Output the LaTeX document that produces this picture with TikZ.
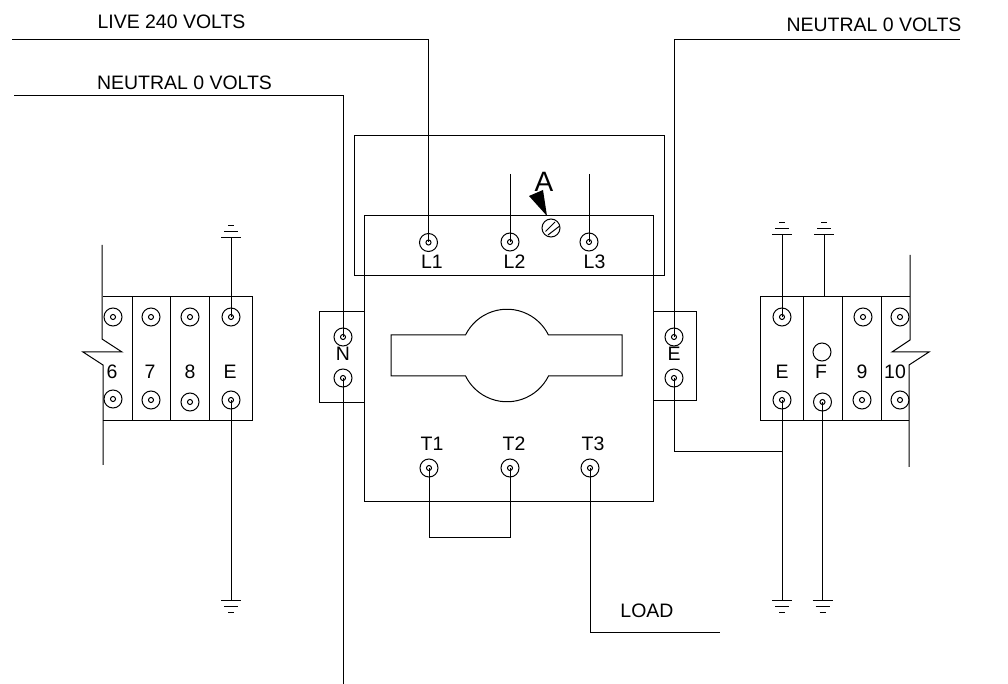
\documentclass[tikz,border=0pt]{standalone}
\usepackage{fontspec}
\setmainfont{Liberation Sans}
\tikzset{
  terminal/.style={draw,circle,inner sep=0pt,minimum size=13.5pt,
    path picture={\draw (path picture bounding box.center) circle (1.9pt);}},
  hole/.style={draw,circle,inner sep=0pt,minimum size=13.5pt},
  txt/.style={inner sep=0pt,font=\fontsize{14.6}{16}\selectfont},
  pics/gndup/.style={code={
    \draw (-10,0)--(10,0);
    \draw (-7,-6)--(7,-6);
    \draw (-3,-12)--(3,-12);}},
  pics/gnddown/.style={code={
    \draw (-10,0)--(10,0);
    \draw (-7,6)--(7,6);
    \draw (-3,12)--(3,12);}}
}
\begin{document}
\begin{tikzpicture}[x=0.75pt,y=-0.75pt,line width=0.75pt]
  \useasboundingbox (0,0) rectangle (1008,684);
  % starter body
  \draw (354,136) rectangle (664,276);
  \draw[fill=white] (364,216) rectangle (653,502);
  \draw (354,216)--(354,276)--(664,276)--(664,216);
  \draw (391,335)--(465.5,335) arc[start angle=153.7,end angle=26.3,radius=34.7pt]
    --(622,335)--(622,376)--(548.5,376) arc[start angle=-26.3,end angle=-153.7,radius=34.7pt]
    --(391,376)--cycle;
  % end clamps
  \draw (364,312)--(319,312)--(319,403)--(364,403);
  \draw (653,312)--(696,312)--(696,401)--(653,401);
  % rail left
  \draw (103,297)--(252,297)--(252,421)--(103,421);
  \draw (132,297)--(132,421);
  \draw (170.5,297)--(170.5,421);
  \draw (209.5,297)--(209.5,421);
  \draw (102,245)--(102,339)--(122,352)--(83,352)--(103,365)--(103,465);
  % rail right
  \draw (910,297)--(760,297)--(760,421)--(909,421);
  \draw (803.5,297)--(803.5,421);
  \draw (842.5,297)--(842.5,421);
  \draw (881,297)--(881,421);
  \draw (910,255)--(910,340)--(892,352)--(929,352)--(909,365)--(909,467);
  % terminals
  \node[terminal] (L1) at (428.5,242.5){};
  \node[terminal] (L2) at (510,242){};
  \node[terminal] (L3) at (589,242){};
  \node[terminal] (T1) at (429,468){};
  \node[terminal] (T2) at (510,468){};
  \node[terminal] (T3) at (590,468){};
  \node[terminal] (Na) at (343,337){};
  \node[terminal] (Nb) at (343,378){};
  \node[terminal] (Ea) at (674,337){};
  \node[terminal] (Eb) at (674,378){};
  \node[terminal] (SixA) at (113,317){};
  \node[terminal] (SixB) at (113,399){};
  \node[terminal] (SevenA) at (151,317){};
  \node[terminal] (SevenB) at (151,400){};
  \node[terminal] (EightA) at (190,317){};
  \node[terminal] (EightB) at (190,402){};
  \node[terminal] (EarthA) at (231,317){};
  \node[terminal] (EarthB) at (231,400){};
  \node[terminal] (RearthA) at (782,317){};
  \node[terminal] (RearthB) at (782,400){};
  \node[hole] (FA) at (822,352){};
  \node[terminal] (FB) at (822.5,402){};
  \node[terminal] (NineA) at (863,317){};
  \node[terminal] (NineB) at (862,400){};
  \node[terminal] (TenA) at (900,317){};
  \node[terminal] (TenB) at (900,400){};
  % screw and arrow
  \node[hole] (screw) at (551,228){};
  \draw (545.5,231.5)--(555,222);
  \draw (548,235)--(559,226.5);
  \coordinate (tip) at (547,216);
  \fill (529,196)--(543,190)--(tip)--cycle;
  % wires
  \coordinate (liveend) at (12,40);
  \coordinate (liveup) at (428.5,40);
  \coordinate (neutralend) at (14,96);
  \coordinate (neutralup) at (343,96);
  \coordinate (neutralbot) at (343,684);
  \coordinate (rneutralend) at (960,40);
  \coordinate (rneutralup) at (674,40);
  \coordinate (ltwo) at (510,174);
  \coordinate (lthree) at (589,174);
  \coordinate (loadend) at (720,632);
  \coordinate (loadbot) at (590,632);
  \coordinate (joint) at (782,452);
  \draw (liveend)--(liveup)--(L1.center);
  \draw (neutralend)--(neutralup)--(Na.center);
  \draw (Nb.center)--(neutralbot);
  \draw (rneutralend)--(rneutralup)--(Ea.center);
  \draw (ltwo)--(L2.center);
  \draw (lthree)--(L3.center);
  \draw (T1.center)--(429,538)--(510,538)--(T2.center);
  \draw (T3.center)--(loadbot)--(loadend);
  \draw (Eb.center)--(674,452)--(joint);
  % earths
  \coordinate (gndA) at (231,238);
  \coordinate (gndB) at (231,600);
  \coordinate (gndC) at (782,235);
  \coordinate (gndD) at (824,235);
  \coordinate (gndE) at (782,600);
  \coordinate (gndF) at (822.5,600);
  \coordinate (ftop) at (824,297);
  \draw (EarthA.center)--(gndA);
  \draw (EarthB.center)--(gndB);
  \draw (RearthA.center)--(gndC);
  \draw (ftop)--(gndD);
  \draw (RearthB.center)--(gndE);
  \draw (FB.center)--(gndF);
  \pic at (gndA) {gndup};
  \pic at (gndC) {gndup};
  \pic at (gndD) {gndup};
  \pic at (gndB) {gnddown};
  \pic at (gndE) {gnddown};
  \pic at (gndF) {gnddown};
  % labels
  \node[txt] (live) at (171.5,22) {LIVE 240 VOLTS};
  \node[txt] (neutralL) at (184.5,83) {NEUTRAL 0 VOLTS};
  \node[txt] (neutralR) at (874,25) {NEUTRAL 0 VOLTS};
  \node[txt] (load) at (647,611) {LOAD};
  \node[txt] (labL1) at (432,262) {L1};
  \node[txt] (labL2) at (514.5,262) {L2};
  \node[txt] (labL3) at (594.5,262) {L3};
  \node[txt] (labT1) at (432,444) {T1};
  \node[txt] (labT2) at (514,444) {T2};
  \node[txt] (labT3) at (593,444) {T3};
  \node[txt] (labN) at (343,354) {N};
  \node[txt] (labE) at (674,354) {E};
  \node[txt] (lab6) at (112,372) {6};
  \node[txt] (lab7) at (150,372) {7};
  \node[txt] (lab8) at (190,372) {8};
  \node[txt] (labEl) at (230,372) {E};
  \node[txt] (labEr) at (782,372) {E};
  \node[txt] (labF) at (821,372) {F};
  \node[txt] (lab9) at (862,372) {9};
  \node[txt] (lab10) at (895,372) {10};
  \node[inner sep=0pt,font=\fontsize{21}{24}\selectfont] (labA) at (544,182) {A};
\end{tikzpicture}
\end{document}
